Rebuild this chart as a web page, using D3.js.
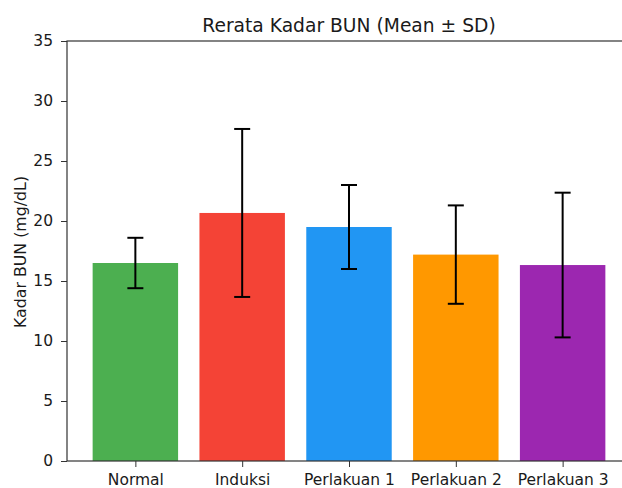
<!DOCTYPE html>
<html><head><meta charset="utf-8">
<script src="https://cdn.jsdelivr.net/npm/d3@7"></script>
<style>body{margin:0;background:#fff;overflow:hidden}svg{display:block}</style>
</head><body>
<script>
const categories = ["Normal", "Induksi", "Perlakuan 1", "Perlakuan 2", "Perlakuan 3"];
const means = [16.5, 20.67, 19.5, 17.2, 16.33];
const sds = [2.1, 7.0, 3.5, 4.1, 6.03];
const colors = ["#4CAF50", "#F44336", "#2196F3", "#FF9800", "#9C27B0"];
const yTicks = [0, 5, 10, 15, 20, 25, 30, 35];

(function () {
const W = 622, H = 488;
const mL = 67, mR = 631, mT = 41, mB = 461;
const svg = d3.select("body").append("svg").attr("width", W).attr("height", H);
const font = "DejaVu Sans, sans-serif";

const x = d3.scaleLinear().domain([-0.64, 4.64]).range([mL, mR]);
const y = d3.scaleLinear().domain([0, 35]).range([mB, mT]);
const bw = x(0.8) - x(0);

svg.selectAll("rect.bar").data(categories).enter().append("rect")
  .attr("class", "bar")
  .attr("x", (d, i) => x(i) - bw / 2).attr("width", bw)
  .attr("y", (d, i) => y(means[i])).attr("height", (d, i) => y(0) - y(means[i]))
  .attr("fill", (d, i) => colors[i]);

const eb = svg.append("g").attr("stroke", "#000").attr("stroke-width", 2);
categories.forEach((c, i) => {
  const cx = x(i), lo = y(means[i] - sds[i]), hi = y(means[i] + sds[i]);
  eb.append("line").attr("x1", cx).attr("x2", cx).attr("y1", lo).attr("y2", hi);
  eb.append("line").attr("x1", cx - 8).attr("x2", cx + 8).attr("y1", lo).attr("y2", lo);
  eb.append("line").attr("x1", cx - 8).attr("x2", cx + 8).attr("y1", hi).attr("y2", hi);
});

const yAxis = svg.append("g").attr("transform", `translate(${mL},0)`)
  .call(d3.axisLeft(y).tickValues(yTicks).tickSize(6).tickPadding(8));
const xAxis = svg.append("g").attr("transform", `translate(0,${mB})`)
  .call(d3.axisBottom(x).tickValues(d3.range(categories.length)).tickFormat(i => categories[i]).tickSize(6).tickPadding(7));
[yAxis, xAxis].forEach(a => {
  a.select(".domain").remove();
  a.selectAll("text").attr("font-family", font).attr("font-size", 15.5).attr("fill", "#1a1a1a");
  a.selectAll("line").attr("stroke", "#333");
});
svg.append("rect").attr("x", mL).attr("y", mT).attr("width", mR - mL).attr("height", mB - mT)
  .attr("fill", "none").attr("stroke", "#333").attr("stroke-width", 1.2);

svg.append("text").attr("x", (mL + mR) / 2).attr("y", 32).attr("text-anchor", "middle")
  .attr("font-family", font).attr("font-size", 18.7).attr("fill", "#1a1a1a").text("Rerata Kadar BUN (Mean ± SD)");
svg.append("text").attr("transform", `translate(26,${(mT + mB) / 2 + 1}) rotate(-90)`).attr("text-anchor", "middle")
  .attr("font-family", font).attr("font-size", 15.8).attr("fill", "#1a1a1a").text("Kadar BUN (mg/dL)");
})();
</script>
</body></html>
